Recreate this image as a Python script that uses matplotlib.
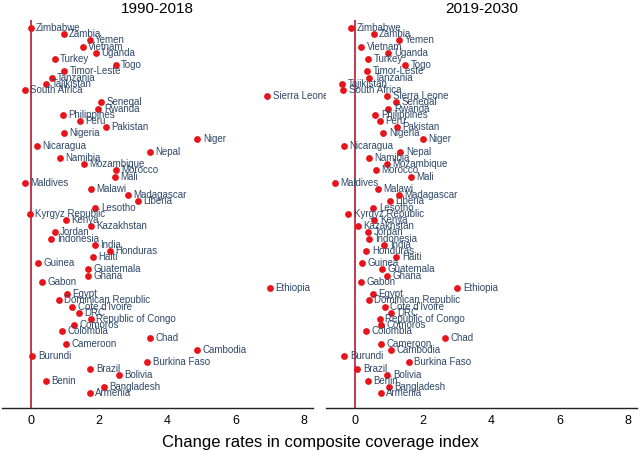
import matplotlib
matplotlib.use("Agg")
import matplotlib.pyplot as plt

plt.rcParams['font.family'] = ['Liberation Sans', 'DejaVu Sans']

# countries from top to bottom of the chart
countries = [
    "Zimbabwe", "Zambia", "Yemen", "Vietnam", "Uganda", "Turkey", "Togo",
    "Timor-Leste", "Tanzania", "Tajikistan", "South Africa", "Sierra Leone",
    "Senegal", "Rwanda", "Philippines", "Peru", "Pakistan", "Nigeria", "Niger",
    "Nicaragua", "Nepal", "Namibia", "Mozambique", "Morocco", "Mali",
    "Maldives", "Malawi", "Madagascar", "Liberia", "Lesotho", "Kyrgyz Republic",
    "Kenya", "Kazakhstan", "Jordan", "Indonesia", "India", "Honduras", "Haiti",
    "Guinea", "Guatemala", "Ghana", "Gabon", "Ethiopia", "Egypt",
    "Dominican Republic", "Cote d'Ivoire", "DRC", "Republic of Congo",
    "Comoros", "Colombia", "Chad", "Cameroon", "Cambodia", "Burundi",
    "Burkina Faso", "Brazil", "Bolivia", "Benin", "Bangladesh", "Armenia",
]

rate_1990_2018 = [
    0.00, 0.96, 1.72, 1.52, 1.90, 0.70, 2.48,
    0.97, 0.61, 0.45, -0.18, 6.92,
    2.07, 1.98, 0.94, 1.44, 2.19, 0.96, 4.87,
    0.19, 3.48, 0.85, 1.56, 2.49, 2.46,
    -0.18, 1.75, 2.84, 3.14, 1.89, -0.03,
    1.02, 1.75, 0.70, 0.60, 1.87, 2.32, 1.82,
    0.22, 1.67, 1.67, 0.33, 6.99, 1.06,
    0.82, 1.21, 1.40, 1.75,
    1.26, 0.91, 3.48, 1.02, 4.87, 0.05,
    3.41, 1.74, 2.58, 0.45, 2.13, 1.72,
]

rate_2019_2030 = [
    -0.09, 0.56, 1.30, 0.20, 0.99, 0.40, 1.48,
    0.36, 0.42, -0.37, -0.33, 0.96,
    1.21, 0.99, 0.61, 0.75, 1.24, 0.84, 1.99,
    -0.32, 1.34, 0.42, 0.94, 0.62, 1.64,
    -0.58, 0.68, 1.29, 1.04, 0.55, -0.18,
    0.58, 0.10, 0.40, 0.43, 0.87, 0.35, 1.22,
    0.23, 0.79, 0.94, 0.18, 3.01, 0.54,
    0.42, 0.88, 1.08, 0.74,
    0.77, 0.34, 2.65, 0.78, 1.06, -0.30,
    1.58, 0.08, 0.96, 0.39, 1.00, 0.76,
]

panel_titles = ["1990-2018", "2019-2030"]
x_ticks = [0, 2, 4, 6, 8]

dot_color = "#e8141b"
label_color = "#2e4868"
zero_color = "#c03a50"


def draw_panel(ax, values, title):
    n = len(countries)
    ys = [n - i for i in range(n)]
    ax.axvline(0, color=zero_color, lw=1.4, zorder=1)
    ax.scatter(values, ys, s=24, color=dot_color, zorder=3, linewidths=0)
    for name, x, y in zip(countries, values, ys):
        ax.annotate(name, (x, y), xytext=(4, 0), textcoords="offset points",
                    va="center", ha="left", fontsize=7, color=label_color)
    ax.set_xlim(-0.84, 8.25)
    ax.set_ylim(-1.4, n + 1.3)
    ax.set_xticks(x_ticks)
    ax.tick_params(axis="x", length=0, pad=5, labelsize=9)
    ax.set_yticks([])
    for side in ["top", "left", "right"]:
        ax.spines[side].set_visible(False)
    ax.spines["bottom"].set_color("#222222")
    ax.spines["bottom"].set_linewidth(1.0)
    ax.set_title(title, fontsize=11, pad=5)


fig = plt.figure(figsize=(6.4, 4.54), dpi=100)
ax1 = fig.add_axes([0.003, 0.101, 0.486, 0.855])
ax2 = fig.add_axes([0.509, 0.101, 0.486, 0.855])

draw_panel(ax1, rate_1990_2018, panel_titles[0])
draw_panel(ax2, rate_2019_2030, panel_titles[1])

fig.text(0.5, 0.025, "Change rates in composite coverage index",
         ha="center", va="center", fontsize=12)

fig.savefig("out.png", dpi=100)
